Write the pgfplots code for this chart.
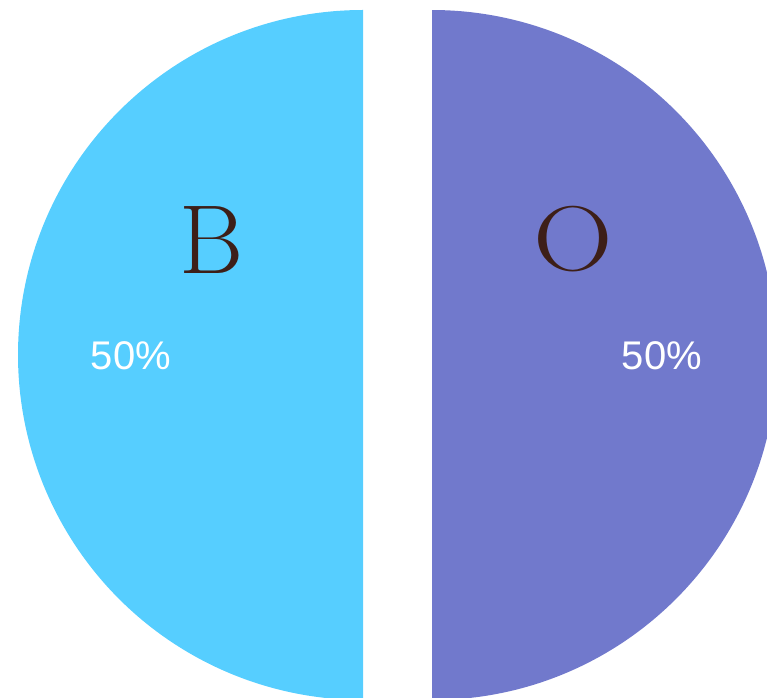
\documentclass[border=0pt]{standalone}
\usepackage{pgfplots}
\usepackage{pgfplotstable}
\usepackage{fontspec}
\pgfplotsset{compat=1.18}
\newfontfamily\labelfont{Liberation Sans}

\definecolor{sliceB}{RGB}{86,206,255}
\definecolor{sliceO}{RGB}{113,121,204}
\definecolor{labelbrown}{RGB}{61,31,24}

% slice shares
\pgfplotstableread{
label value
B 50
O 50
}\piedata

\pgfplotstablegetelem{0}{value}\of\piedata \let\valB\pgfplotsretval
\pgfplotstablegetelem{1}{value}\of\piedata \let\valO\pgfplotsretval
% angles: B runs counter-clockwise from the top, O follows it
\pgfmathsetmacro{\startB}{90}
\pgfmathsetmacro{\endB}{90+3.6*\valB}
\pgfmathsetmacro{\midB}{(\startB+\endB)/2}
\pgfmathsetmacro{\startO}{\endB}
\pgfmathsetmacro{\endO}{\endB+3.6*\valO}
\pgfmathsetmacro{\midO}{(\startO+\endO)/2}
\pgfmathtruncatemacro{\pctB}{round(\valB)}
\pgfmathtruncatemacro{\pctO}{round(\valO)}

\begin{document}
\begin{tikzpicture}
\begin{axis}[
  scale only axis, width=767pt, height=697pt,
  xmin=0, xmax=767, ymin=0, ymax=697,
  hide axis, clip=true,
]
% pie centre (397.5,342), radius 345, slices pulled apart by 34.5
\fill[sliceB, shift={(\midB:34.5pt)}] (axis cs:397.5,342) -- ++(\startB:345pt)
  arc[start angle=\startB, end angle=\endB, radius=345pt] -- cycle;
\fill[sliceO, shift={(\midO:34.5pt)}] (axis cs:397.5,342) -- ++(\startO:345pt)
  arc[start angle=\startO, end angle=\endO, radius=345pt] -- cycle;

\node[text=labelbrown, font=\fontsize{98}{98}\selectfont] at (axis cs:212,457) {B};
\node[text=labelbrown, font=\fontsize{92}{92}\selectfont, xscale=1.2] at (axis cs:573,458) {O};

\node[text=white, font=\labelfont\fontsize{40}{40}\selectfont] at (axis cs:131,341) {\pctB\%};
\node[text=white, font=\labelfont\fontsize{40}{40}\selectfont] at (axis cs:662,341) {\pctO\%};
\end{axis}
\pgfresetboundingbox
\path[use as bounding box] (0,0) rectangle (767pt,697pt);
\end{tikzpicture}
\end{document}
